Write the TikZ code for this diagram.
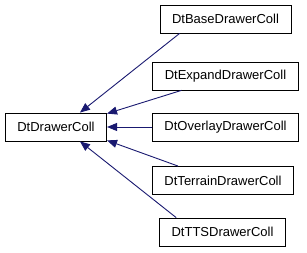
\documentclass[tikz,border=0pt]{standalone}
\usepackage{fontspec}
\setmainfont{Liberation Sans}
\usepackage{xcolor}
\usetikzlibrary{arrows.meta, positioning}
\definecolor{edgeblue}{HTML}{191970}

\begin{document}
\begin{tikzpicture}[
  x=1pt, y=1pt,
  cls/.style={draw, fill=white, line width=0.8pt, minimum height=28pt, inner xsep=12pt, font=\fontsize{13}{15}\selectfont},
  inherit/.style={edgeblue, line width=0.9pt, -{Triangle[length=10pt,width=8pt]}},
]
\useasboundingbox (0,0) rectangle (307,253);

%% base class
\node[cls] (main) at (56,126) {DtDrawerColl};

%% derived classes
\node[cls] (base) at (225.5,234) {DtBaseDrawerColl};
\node[cls] (expand) at (225.5,177) {DtExpandDrawerColl};
\node[cls] (overlay) at (225.5,126) {DtOverlayDrawerColl};
\node[cls] (terrain) at (223,72.5) {DtTerrainDrawerColl};
\node[cls] (tts) at (222.5,21) {DtTTSDrawerColl};

%% inheritance edges
\draw[inherit] ([xshift=20pt]base.south west) -- ([xshift=75pt]main.north west);
\draw[inherit] ([xshift=29pt]expand.south west) -- ([yshift=-1pt]main.north east);
\draw[inherit] (overlay.west) -- (main.east);
\draw[inherit] ([xshift=26pt]terrain.north west) -- ([yshift=1pt]main.south east);
\draw[inherit] ([xshift=17pt]tts.north west) -- ([xshift=75pt]main.south west);

\end{tikzpicture}
\end{document}
